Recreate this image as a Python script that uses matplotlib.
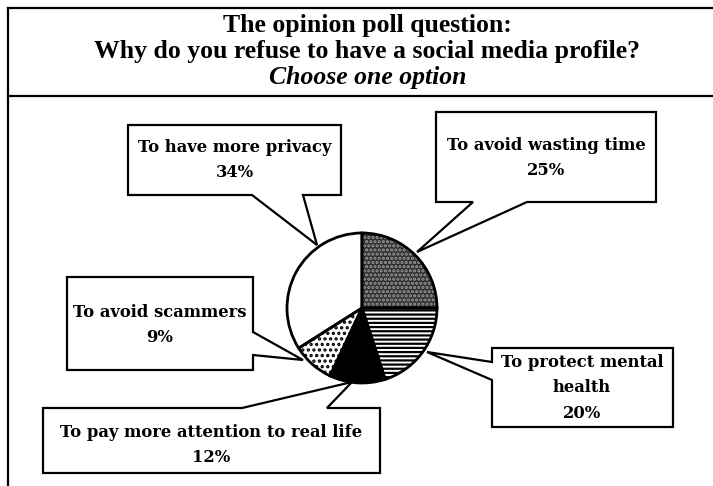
import matplotlib.pyplot as plt
from matplotlib.patches import Polygon

# poll answers, clockwise from 12 o'clock
labels = ['To avoid wasting time', 'To protect mental\nhealth',
          'To pay more attention to real life', 'To avoid scammers',
          'To have more privacy']
shares = [25, 20, 12, 9, 34]

title1 = 'The opinion poll question:'
title2 = 'Why do you refuse to have a social media profile?'
title3 = 'Choose one option'

W, H = 713, 486

def px(x, y):
    # picture coords (y down) -> data coords (y up)
    return (x, H - y)

fig = plt.figure(figsize=(W / 100, H / 100), dpi=100)
ax = fig.add_axes([0, 0, 1, 1])
plt.rcParams['hatch.linewidth'] = 1.6

# slice styles
faces = ['#2e2e2e', 'white', 'black', 'white', 'white']
hatch_cols = ['#9a9a9a', 'black', 'black', 'black', 'black']
hatches = ['....', '----', '', '...', '']

cx, cy = px(362, 308)
wedges, _ = ax.pie(shares, startangle=90, counterclock=False, center=(cx, cy),
                   radius=75, colors=faces, hatch=hatches,
                   wedgeprops=dict(linewidth=0))
for w, hc in zip(wedges, hatch_cols):
    w.set_edgecolor(hc)
    w.set_linewidth(0)
    w.set_zorder(5)
outline, _ = ax.pie(shares, startangle=90, counterclock=False, center=(cx, cy),
                    radius=75, colors=['none'] * 5,
                    wedgeprops=dict(edgecolor='black', linewidth=2))
for w in outline:
    w.set_zorder(6)

# callout outlines (box with pointer), in picture pixels
callouts = [
    [(436, 112), (656, 112), (656, 202), (527, 202), (417, 252), (473, 202), (436, 202)],
    [(492, 348), (673, 348), (673, 427), (492, 427), (492, 380), (427, 352), (492, 362)],
    [(43, 408), (242, 408), (352, 382), (327, 408), (380, 408), (380, 473), (43, 473)],
    [(67, 277), (253, 277), (253, 332), (303, 360), (253, 355), (253, 370), (67, 370)],
    [(128, 125), (341, 125), (341, 195), (303, 195), (317, 245), (252, 195), (128, 195)],
]
text_pos = [(546, 158), (582, 388), (211, 445), (160, 325), (235, 160)]

for lab, s, poly, (tx, ty) in zip(labels, shares, callouts, text_pos):
    ax.add_patch(Polygon([px(x, y) for x, y in poly], closed=True,
                         facecolor='white', edgecolor='black', linewidth=1.6,
                         joinstyle='miter', zorder=3))
    ax.text(*px(tx, ty), f'{lab}\n{s}%', ha='center', va='center',
            fontsize=11.8, fontweight='bold', family='DejaVu Serif',
            linespacing=1.65, zorder=4)

# frame
ax.plot([8, W], [H - 8, H - 8], color='black', lw=1.6)
ax.plot([8, W], [H - 96, H - 96], color='black', lw=1.6)
ax.plot([8, 8], [H - 8, 0], color='black', lw=1.6)

for i, t in enumerate([title1, title2, title3]):
    ax.text(*px(W / 2 + 11, 26 + 26 * i), t, ha='center', va='center',
            fontsize=18.5, fontweight='bold', family='Liberation Serif',
            fontstyle='italic' if i == 2 else 'normal')

ax.set_xlim(0, W)
ax.set_ylim(0, H)
ax.set_aspect('auto')
ax.axis('off')

plt.savefig('out.png', dpi=100)
